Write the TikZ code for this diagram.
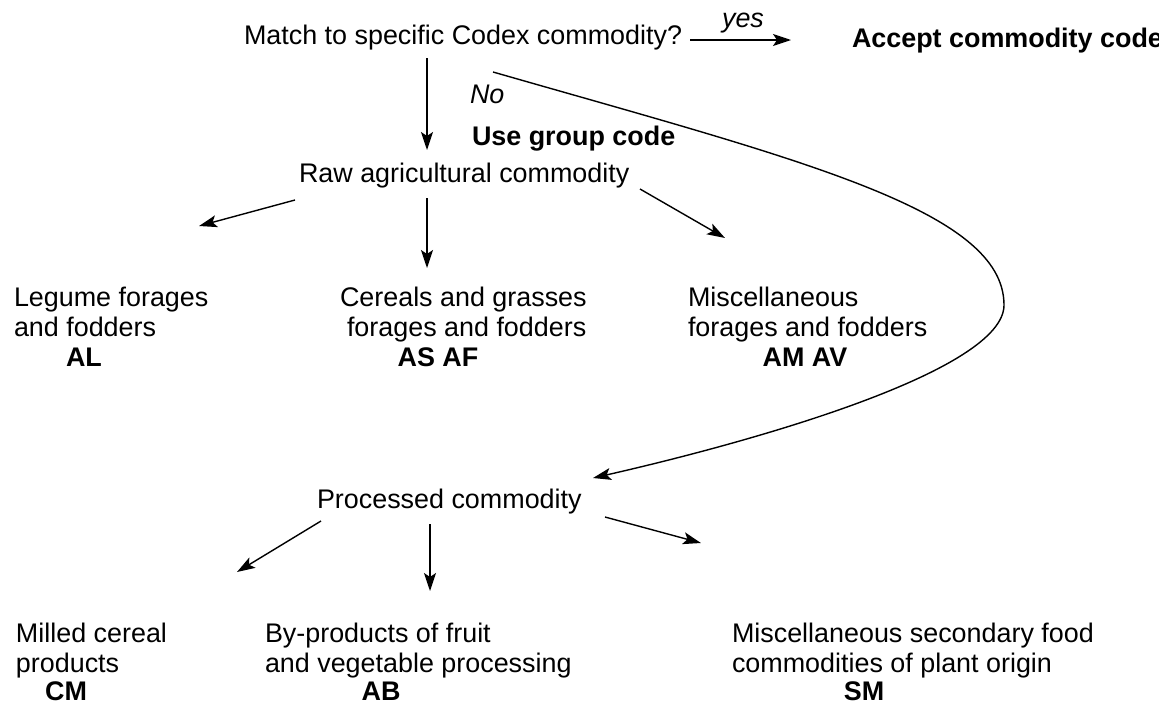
\documentclass[tikz,border=0pt]{standalone}
\usepackage{fontspec}
\setmainfont{Liberation Sans}
\usetikzlibrary{arrows.meta}
\begin{document}
\begin{tikzpicture}[x=1pt,y=-1pt,
  lbl/.style={inner sep=0pt,outer sep=0pt,font=\fontsize{26.9}{29.3}\selectfont,align=left},
  code/.style={lbl,font=\fontsize{26.9}{29.3}\selectfont\bfseries},
  ital/.style={lbl,font=\fontsize{26.9}{29.3}\selectfont\itshape},
  arr/.style={line width=1.4pt,-{Stealth[length=18pt,width=12pt,inset=4pt]}}]
\useasboundingbox (0,0) rectangle (1159,702);
% top
\node[lbl,anchor=base west] (match) at (244,44) {Match to specific Codex commodity?};
\node[code,anchor=base west] (accept) at (852,47) {Accept commodity code};
\coordinate (yesA) at (690,40);
\coordinate (yesB) at (791,40);
\draw[arr] (yesA) -- (yesB);
\node[ital,anchor=base] (yes) at (743,27) {yes};
\coordinate (downA) at (427,58);
\coordinate (downB) at (427,150);
\draw[arr] (downA) -- (downB);
\node[ital,anchor=base west] (no) at (470,103) {No};
\node[code,anchor=base west] (usegroup) at (472,145) {Use group code};
\node[lbl,anchor=base west] (raw) at (299,182) {Raw agricultural commodity};
% raw branches
\coordinate (r1a) at (295,200); \coordinate (r1b) at (199,226);
\coordinate (r2a) at (427,198); \coordinate (r2b) at (427,268);
\coordinate (r3a) at (640,189); \coordinate (r3b) at (725,238);
\draw[arr] (r1a) -- (r1b);
\draw[arr] (r2a) -- (r2b);
\draw[arr] (r3a) -- (r3b);
\node[lbl,anchor=base west] (legume) at (14,336) {Legume forages\\and fodders};
\node[code,anchor=base] (al) at (84,366) {AL};
\node[lbl,anchor=base west] (cereals) at (340,336) {Cereals and grasses\\\hspace*{7pt}forages and fodders};
\node[code,anchor=base] (asaf) at (438,366) {AS AF};
\node[lbl,anchor=base west] (misc) at (688,336) {Miscellaneous\\forages and fodders};
\node[code,anchor=base] (amav) at (805,366) {AM AV};
% curve
\coordinate (cA) at (493,72);
\coordinate (cM) at (1004,305);
\coordinate (cB) at (593,478);
\draw[arr] (cA) .. controls (800,160) and (1004,210) .. (cM) .. controls (1004,370) and (760,440) .. (cB);
% processed
\node[lbl,anchor=base west] (proc) at (317,508) {Processed commodity};
\coordinate (p1a) at (321,521); \coordinate (p1b) at (237,572);
\coordinate (p2a) at (430,524); \coordinate (p2b) at (430,591);
\coordinate (p3a) at (605,517); \coordinate (p3b) at (701,543);
\draw[arr] (p1a) -- (p1b);
\draw[arr] (p2a) -- (p2b);
\draw[arr] (p3a) -- (p3b);
\node[lbl,anchor=base west] (milled) at (16,672) {Milled cereal\\products};
\node[code,anchor=base] (cm) at (66,700) {CM};
\node[lbl,anchor=base west] (byprod) at (265,672) {By-products of fruit\\and vegetable processing};
\node[code,anchor=base] (ab) at (381,700) {AB};
\node[lbl,anchor=base west] (miscsec) at (732,672) {Miscellaneous secondary food\\commodities of plant origin};
\node[code,anchor=base] (sm) at (864,700) {SM};
\end{tikzpicture}
\end{document}
